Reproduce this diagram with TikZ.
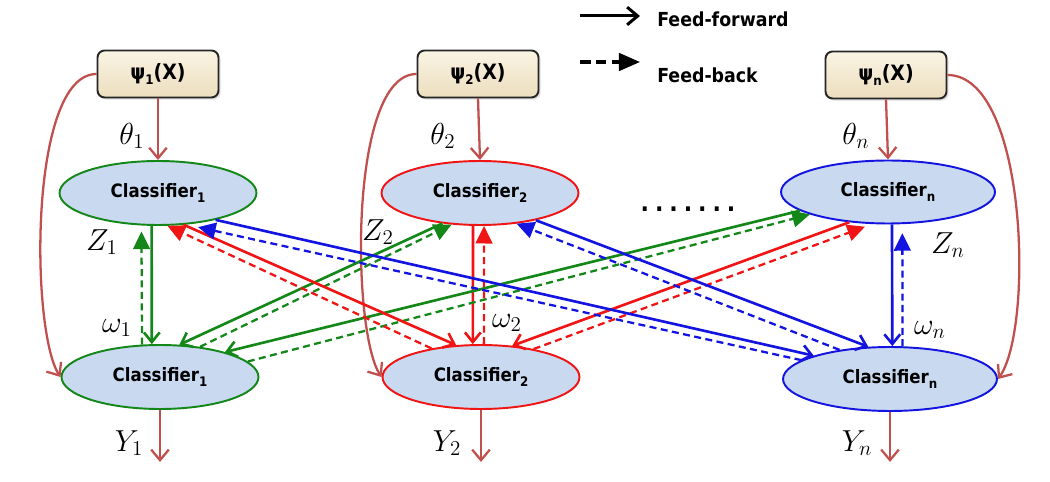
\documentclass[tikz,border=0pt]{standalone}
\usepackage{fontspec}
\setmainfont{DejaVu Sans Condensed}
\usetikzlibrary{arrows.meta,shapes.geometric,shadows}
\definecolor{brn}{RGB}{192,80,77}
\definecolor{cgreen}{RGB}{20,135,25}
\definecolor{cred}{RGB}{240,20,20}
\definecolor{cblue}{RGB}{20,20,225}
\definecolor{cfill}{RGB}{200,217,240}
\definecolor{btop}{RGB}{250,244,228}
\definecolor{bbot}{RGB}{236,222,190}
\newcommand{\lsub}[1]{\raisebox{-0.45ex}{\fontsize{7.5}{8}\selectfont #1}}
\begin{document}
\begin{tikzpicture}[x=0.02cm,y=-0.02cm,
  psibox/.style={draw=black!85, line width=1.1pt, rounded corners=4pt, top color=btop, bottom color=bbot,
    minimum width=2.42cm, minimum height=0.94cm, inner sep=0, font=\fontsize{12}{14}\selectfont\bfseries,
    drop shadow={opacity=0.25,shadow xshift=1.2pt,shadow yshift=-1.2pt}},
  clf/.style={ellipse, draw, line width=1.1pt, fill=cfill, minimum width=3.94cm, minimum height=1.28cm,
    inner sep=0, font=\fontsize{10.5}{12}\selectfont\bfseries},
  clfwide/.style={clf, minimum width=4.28cm},
  lbl/.style={inner sep=0, font=\fontsize{18}{20}\selectfont},
  legtext/.style={inner sep=0, anchor=west, font=\fontsize{11}{13}\selectfont\bfseries},
  brarrow/.style={draw=brn, line width=1.3pt, -{Straight Barb[length=6pt,width=10pt]}},
  fwd/.style={line width=1.5pt, -{Straight Barb[length=5.5pt,width=9pt]}},
  fbk/.style={line width=1.3pt, dash pattern=on 4pt off 2.5pt, -{Triangle[length=10pt,width=9.5pt]}},
]
\useasboundingbox (0,0) rectangle (1050,482);

% boxes
\node[psibox] (p1) at (158,74) {ψ\lsub{1}(X)};
\node[psibox] (p2) at (478,74) {ψ\lsub{2}(X)};
\node[psibox] (pn) at (886,75) {ψ\lsub{n}(X)};

% classifiers
\node[clf, draw=cgreen] (t1) at (158,193) {Classifier\lsub{1}};
\node[clf, draw=cred] (t2) at (480,193) {Classifier\lsub{2}};
\node[clfwide, draw=cblue, minimum height=1.26cm] (tn) at (888,192) {Classifier\lsub{n}};
\node[clf, draw=cgreen] (b1) at (160,377) {Classifier\lsub{1}};
\node[clf, draw=cred] (b2) at (481,377) {Classifier\lsub{2}};
\node[clfwide, draw=cblue] (bn) at (890,379) {Classifier\lsub{n}};

% side feedback curves
\draw[brarrow] (p1.west) .. controls +(-68,0) and +(-30,-45) .. (b1.west);
\draw[brarrow] (p2.west) .. controls +(-68,0) and +(-30,-45) .. (b2.west);
\draw[brarrow] (pn.east) .. controls +(80,0) and +(36,-50) .. (bn.east);

% theta and Y arrows
\draw[brarrow] (p1.south) -- (t1.north);
\draw[brarrow] (p2.south) -- (t2.north);
\draw[brarrow] (pn.south) -- (tn.north);
\draw[brarrow] (b1.south) -- ++(0,52);
\draw[brarrow] (b2.south) -- ++(0,52);
\draw[brarrow] (bn.south) -- ++(0,50);

% vertical pairs
\draw[fwd, cgreen] (t1.-101) -- (b1.104);
\draw[fbk, cgreen] (b1.119) -- ([shift={(0,6)}]t1.-117);
\draw[fwd, cred] (t2.-102) -- (b2.104);
\draw[fbk, cred] (b2.85) -- (t2.-83);
\draw[fwd, cblue] (tn.-83) -- (bn.86);
\draw[fbk, cblue] (bn.69) -- ([shift={(0,9)}]tn.-66);

% green cross pairs
\draw[fwd, cgreen] (t2.-141) -- (b1.59);
\draw[fbk, cgreen] (b1.37) -- (t2.-132);
\draw[fwd, cgreen] (tn.-168) -- (b1.21);
\draw[fbk, cgreen] (b1.10) -- (tn.-164);
% red cross pairs
\draw[fwd, cred] (t1.-51) -- (b2.128);
\draw[fbk, cred] (b2.150) -- (t1.-74);
\draw[fwd, cred] (tn.-142) -- (b2.45);
\draw[fbk, cred] (b2.28) -- ([shift={(0,3)}]tn.-126);
% blue cross pairs
\draw[fwd, cblue] (t1.-25) -- (bn.163);
\draw[fbk, cblue] (bn.168) -- ([shift={(0,4)}]t1.-37);
\draw[fwd, cblue] (t2.-26) -- (bn.124);
\draw[fbk, cblue] (bn.150) -- (t2.-40);

% labels
\node[lbl] (th1) at (132,136) {$\theta_1$};
\node[lbl] (th2) at (443,136) {$\theta_2$};
\node[lbl] (thn) at (856,136) {$\theta_n$};
\node[lbl] (z1) at (102,242) {$Z_1$};
\node[lbl] (z2) at (378,232) {$Z_2$};
\node[lbl] (zn) at (948,245) {$Z_n$};
\node[lbl] (w1) at (117,328) {$\omega_1$};
\node[lbl] (w2) at (507,323) {$\omega_2$};
\node[lbl] (wn) at (930,330) {$\omega_n$};
\node[lbl] (y1) at (129,443) {$Y_1$};
\node[lbl] (y2) at (447,443) {$Y_2$};
\node[lbl] (yn) at (857,443) {$Y_n$};

% dots
\node[inner sep=0, font=\fontsize{14}{14}\selectfont\bfseries] (dots) at (688,209)
  {.\hspace{3.4pt}.\hspace{3.4pt}.\hspace{3.4pt}.\hspace{3.4pt}.\hspace{3.4pt}.\hspace{3.4pt}.};

% legend
\coordinate (lg1a) at (580,16);
\coordinate (lg1b) at (640,16);
\draw[line width=1.7pt, -{Straight Barb[length=6pt,width=10pt]}] (lg1a) -- (lg1b);
\node[legtext] (ff) at (657,19) {Feed-forward};
\coordinate (lg2a) at (580,62);
\coordinate (lg2b) at (640,62);
\draw[line width=1.8pt, dash pattern=on 6pt off 3pt, -{Triangle[length=12pt,width=10pt]}] (lg2a) -- (lg2b);
\node[legtext] (fb) at (657,75) {Feed-back};
\end{tikzpicture}
\end{document}
